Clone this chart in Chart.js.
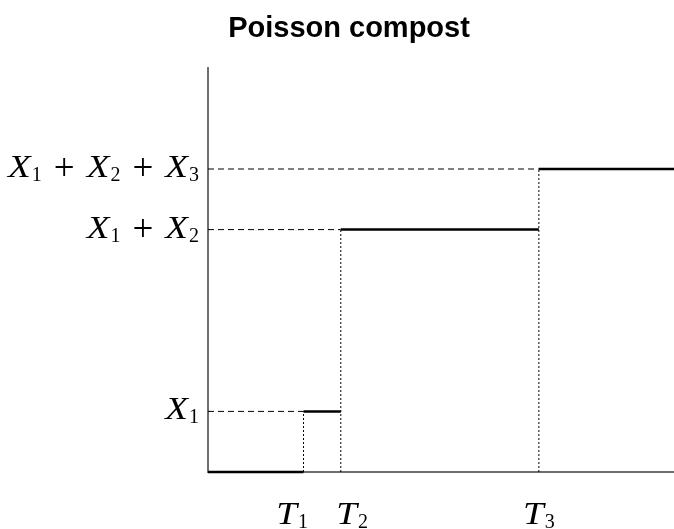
<!DOCTYPE html>
<html>
<head>
<meta charset="utf-8">
<title>Poisson compost</title>
<script src="https://cdn.jsdelivr.net/npm/chart.js@4.4.1/dist/chart.umd.min.js"></script>
<style>
  html, body { margin: 0; padding: 0; background: #fff; }
  canvas { display: block; }
</style>
</head>
<body>
<canvas id="chart" width="674" height="529"></canvas>
<script>
// jump times T_i and jump sizes X_i of the compound process
const jumpTimes = [2.05, 2.85, 7.1];
const jumpSizes = [1.5, 4.5, 1.5];
const timeLabels = [['T', '1'], ['T', '2'], ['T', '3']];
const sizeLabels = [['X', '1'], ['X', '2'], ['X', '3']];
const xMax = 10;
const yMax = 10;

// cumulative levels X1, X1+X2, X1+X2+X3
var levels = [];
var acc = 0;
jumpSizes.forEach(function (s) { acc += s; levels.push(acc); });

// step path, one horizontal piece per interval, gaps at the jumps
var stepPoints = [];
var prevT = 0, level = 0;
for (var i = 0; i < jumpTimes.length; i++) {
  stepPoints.push({x: prevT, y: level}, {x: jumpTimes[i], y: level}, {x: jumpTimes[i], y: null});
  level = levels[i];
  prevT = jumpTimes[i];
}
stepPoints.push({x: prevT, y: level}, {x: xMax, y: level});

// dashed guides from the y axis to the start of each level
var hGuides = [];
// dotted guides from the x axis up to each jump
var vGuides = [];
for (var j = 0; j < jumpTimes.length; j++) {
  hGuides.push({x: 0, y: levels[j]}, {x: jumpTimes[j], y: levels[j]}, {x: jumpTimes[j], y: null});
  vGuides.push({x: jumpTimes[j], y: 0}, {x: jumpTimes[j], y: levels[j]}, {x: jumpTimes[j] + 0.001, y: null});
}

const mathFont = 'italic 31px "Liberation Serif", serif';
const subFont = '20px "Liberation Serif", serif';
const opFont = '37px "Liberation Serif", serif';
const stretch = 1.2;
const opSpace = 12;

// a term is [letter, subscript]; terms are joined with " + "
function mathWidth(ctx, terms) {
  var w = 0;
  terms.forEach(function (t, k) {
    ctx.font = mathFont; w += ctx.measureText(t[0]).width * stretch + 1;
    ctx.font = subFont; w += ctx.measureText(t[1]).width;
    if (k < terms.length - 1) { ctx.font = opFont; w += ctx.measureText('+').width + 2 * opSpace; }
  });
  return w;
}

function drawMath(ctx, terms, x, y) {
  terms.forEach(function (t, k) {
    ctx.save();
    ctx.font = mathFont;
    ctx.translate(x, y);
    ctx.scale(stretch, 1);
    ctx.fillText(t[0], 0, 0);
    var lw = ctx.measureText(t[0]).width * stretch;
    ctx.restore();
    x += lw + 1;
    ctx.font = subFont;
    ctx.fillText(t[1], x, y + 4);
    x += ctx.measureText(t[1]).width;
    if (k < terms.length - 1) {
      x += opSpace;
      ctx.font = opFont;
      ctx.fillText('+', x, y + 3);
      x += ctx.measureText('+').width + opSpace;
    }
  });
}

const labelPlugin = {
  id: 'labels',
  afterDraw: function (chart) {
    var ctx = chart.ctx;
    var xs = chart.scales.x, ys = chart.scales.y;
    ctx.save();
    ctx.fillStyle = '#000';
    ctx.textBaseline = 'alphabetic';
    ctx.textAlign = 'left';

    // title
    ctx.font = 'bold 29px "Liberation Sans", sans-serif';
    ctx.textAlign = 'center';
    ctx.fillText('Poisson compost', 349, 37);
    ctx.textAlign = 'left';

    // level labels on the y axis
    levels.forEach(function (v, k) {
      var terms = sizeLabels.slice(0, k + 1);
      var w = mathWidth(ctx, terms);
      drawMath(ctx, terms, chart.chartArea.left - 9 - w, ys.getPixelForValue(v) + 8);
    });

    // time labels, pushed apart when two jumps are close
    var px = jumpTimes.map(function (t) { return xs.getPixelForValue(t); });
    var centers = px.slice();
    var minGap = 60;
    for (var k = 1; k < px.length; k++) {
      var gap = px[k] - px[k - 1];
      if (gap < minGap) {
        centers[k - 1] -= (minGap - gap) / 2;
        centers[k] += (minGap - gap) / 2;
      }
    }
    timeLabels.forEach(function (t, k) {
      var w = mathWidth(ctx, [t]);
      drawMath(ctx, [t], centers[k] - w / 2, chart.chartArea.bottom + 52);
    });
    ctx.restore();
  }
};

new Chart(document.getElementById('chart'), {
  type: 'line',
  data: {
    datasets: [
      {
        data: stepPoints,
        borderColor: '#000',
        borderWidth: 2.5,
        pointRadius: 0,
        spanGaps: false,
        clip: false
      },
      {
        data: hGuides,
        borderColor: '#000',
        borderWidth: 1,
        borderDash: [6, 4],
        pointRadius: 0,
        spanGaps: false,
        clip: false
      },
      {
        data: vGuides,
        borderColor: '#000',
        borderWidth: 1,
        borderDash: [2, 2],
        pointRadius: 0,
        spanGaps: false,
        clip: false
      }
    ]
  },
  options: {
    responsive: false,
    animation: false,
    devicePixelRatio: 1,
    layout: { padding: { left: 200, right: 0, top: 68, bottom: 49 } },
    scales: {
      x: {
        type: 'linear',
        min: 0,
        max: xMax,
        grid: { display: false },
        border: { display: true, color: '#6e6e6e', width: 2 },
        ticks: { display: false }
      },
      y: {
        min: 0,
        max: yMax,
        grid: { display: false },
        border: { display: true, color: '#6e6e6e', width: 2 },
        ticks: { display: false }
      }
    },
    plugins: {
      legend: { display: false },
      tooltip: { enabled: false }
    }
  },
  plugins: [labelPlugin]
});
</script>
</body>
</html>
